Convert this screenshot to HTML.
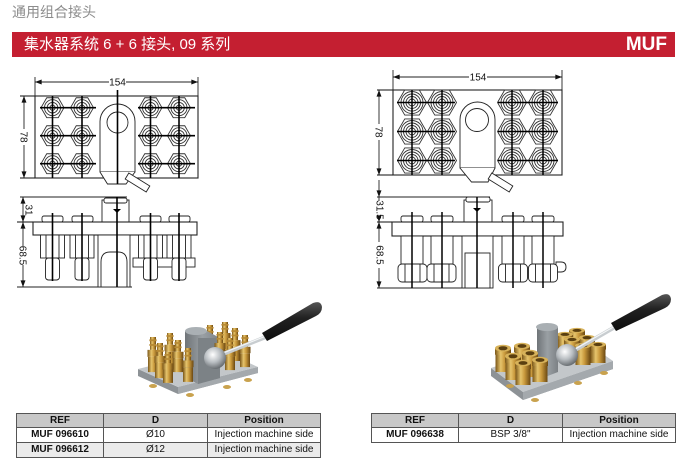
<!DOCTYPE html>
<html><head><meta charset="utf-8">
<style>
html,body{margin:0;padding:0;background:#fff;}
body{width:693px;height:467px;position:relative;overflow:hidden;font-family:"Liberation Sans","Noto Sans CJK SC",sans-serif;}
.sub{position:absolute;left:12px;top:4px;font-size:14px;line-height:16px;color:#8c8c8c;font-family:"Liberation Sans","Noto Sans CJK SC",sans-serif;}
.bar{position:absolute;left:12px;top:32px;width:663px;height:25px;background:#c41f31;color:#fff;}
.bar .tt{position:absolute;left:12px;top:4px;font-size:15px;line-height:17px;font-family:"Liberation Sans","Noto Sans CJK SC",sans-serif;}
.bar .muf{position:absolute;right:8px;top:2px;font-size:19px;line-height:21px;font-weight:bold;font-family:"Liberation Sans",sans-serif;}
.t{position:absolute;border-collapse:collapse;table-layout:fixed;font-family:"Liberation Sans",sans-serif;font-size:10px;border:1.5px solid #333;}
.t th,.t td{border:1px solid #555;padding:0;text-align:center;white-space:nowrap;overflow:hidden;color:#111;}
.t th{background:#c8c8c8;font-weight:bold;height:13px;line-height:13px;}
.t td{height:14px;line-height:14px;}
.t td.b{font-weight:bold;}
.t tr.g td{background:#ebebeb;}
svg text{font-family:"Liberation Sans",sans-serif;fill:#111;}
</style></head>
<body>
<div class="sub">通用组合接头</div>
<div class="bar"><span class="tt">集水器系统 6 + 6 接头, 09 系列</span><span class="muf">MUF</span></div>

<svg width="693" height="467" viewBox="0 0 693 467" style="position:absolute;left:0;top:0" xmlns="http://www.w3.org/2000/svg" xmlns:xlink="http://www.w3.org/1999/xlink">
<defs>
 <marker id="a" viewBox="0 0 8 6" refX="8" refY="3" markerWidth="7" markerHeight="5" markerUnits="userSpaceOnUse" orient="auto-start-reverse"><path d="M0,0L8,3L0,6z" fill="#111"/></marker>
 <g id="nL" fill="none" stroke="#333" stroke-width="0.9">
  <path d="M11.5,0L5.75,9.96L-5.75,9.96L-11.5,0L-5.75,-9.96L5.75,-9.96Z"/>
  <circle r="8"/><circle r="5.3"/><circle r="2.6"/>
 </g>
 <g id="nR" fill="none" stroke="#333" stroke-width="0.9">
  <path d="M14.5,0L7.25,12.56L-7.25,12.56L-14.5,0L-7.25,-12.56L7.25,-12.56Z"/>
  <circle r="11"/><circle r="8.5"/><circle r="6"/><circle r="3.5"/>
 </g>
 <linearGradient id="br" x1="0" x2="1" y1="0" y2="0">
  <stop offset="0" stop-color="#7a5618"/><stop offset="0.35" stop-color="#e6c46c"/><stop offset="0.6" stop-color="#c9993c"/><stop offset="1" stop-color="#6a4812"/>
 </linearGradient>
 <linearGradient id="gr" x1="0" x2="1" y1="0" y2="0">
  <stop offset="0" stop-color="#6f7478"/><stop offset="0.5" stop-color="#9aa0a4"/><stop offset="1" stop-color="#7c8185"/>
 </linearGradient>
 <radialGradient id="ball" cx="0.4" cy="0.35" r="0.7">
  <stop offset="0" stop-color="#ffffff"/><stop offset="0.5" stop-color="#b9bec2"/><stop offset="1" stop-color="#5d6266"/>
 </radialGradient>
 <linearGradient id="hd" x1="0" x2="0" y1="0" y2="1">
  <stop offset="0" stop-color="#555"/><stop offset="0.4" stop-color="#222"/><stop offset="1" stop-color="#0c0c0c"/>
 </linearGradient>
 <g id="fit">
  <rect x="-3" y="0" width="6" height="11" fill="url(#br)"/>
  <rect x="-3.6" y="2" width="7.2" height="1.6" fill="#b88a34"/>
  <rect x="-3.6" y="6" width="7.2" height="1.6" fill="#b88a34"/>
  <rect x="-5.5" y="11" width="11" height="6" fill="url(#br)"/>
  <rect x="-5" y="17" width="10" height="13" fill="url(#br)"/>
 </g>
 <g id="nut">
  <rect x="-7.5" y="3" width="15" height="22" fill="url(#br)"/>
  <rect x="-8" y="3" width="16" height="6" fill="url(#br)"/>
  <ellipse cx="0" cy="3" rx="8" ry="3.2" fill="#d7b25a"/>
  <ellipse cx="0" cy="3" rx="4.5" ry="1.9" fill="#5a3f10"/>
 </g>
</defs>

<!-- ===== LEFT TOP VIEW ===== -->
<g stroke="#222" stroke-width="0.9" fill="none">
 <line x1="35" y1="77" x2="35" y2="96"/>
 <line x1="198" y1="77" x2="198" y2="96"/>
 <line x1="35" y1="82" x2="109" y2="82" marker-start="url(#a)"/>
 <line x1="126" y1="82" x2="198" y2="82" marker-end="url(#a)"/>
 <rect x="35" y="96" width="163" height="82" stroke-width="1.1"/>
 <line x1="20" y1="96" x2="35" y2="96" stroke-width="1.1"/>
 <line x1="20" y1="178" x2="35" y2="178" stroke-width="1.1"/>
 <line x1="24" y1="96" x2="24" y2="129" marker-start="url(#a)"/>
 <line x1="24" y1="145" x2="24" y2="178" marker-end="url(#a)"/>
 <path d="M100,172V121.5A17.5,17.5 0 0 1 135,121.5V172Z" fill="#fff"/>
 <circle cx="117.5" cy="122.5" r="10.5"/>
 <path d="M100,172L107.5,184L126,184L135,172" fill="#fff"/>
 <path d="M128.8,173L149.8,186L146.2,192L125.2,179Z" fill="#fff"/>
</g>
<text x="117.5" y="85.5" font-size="10" text-anchor="middle">154</text>
<text transform="translate(24,137) rotate(90)" y="3.5" font-size="10" text-anchor="middle">78</text>
<g>
 <use href="#nL" xlink:href="#nL" x="52.5" y="107.7"/><use href="#nL" xlink:href="#nL" x="82" y="107.7"/>
 <use href="#nL" xlink:href="#nL" x="150.5" y="107.7"/><use href="#nL" xlink:href="#nL" x="179" y="107.7"/>
 <use href="#nL" xlink:href="#nL" x="52.5" y="135.7"/><use href="#nL" xlink:href="#nL" x="82" y="135.7"/>
 <use href="#nL" xlink:href="#nL" x="150.5" y="135.7"/><use href="#nL" xlink:href="#nL" x="179" y="135.7"/>
 <use href="#nL" xlink:href="#nL" x="52.5" y="163.7"/><use href="#nL" xlink:href="#nL" x="82" y="163.7"/>
 <use href="#nL" xlink:href="#nL" x="150.5" y="163.7"/><use href="#nL" xlink:href="#nL" x="179" y="163.7"/>
</g>
<g stroke="#000" stroke-width="1.6">
 <line x1="40" y1="107.7" x2="96" y2="107.7"/><line x1="138" y1="107.7" x2="195" y2="107.7"/>
 <line x1="40" y1="135.7" x2="96" y2="135.7"/><line x1="138" y1="135.7" x2="195" y2="135.7"/>
 <line x1="40" y1="163.7" x2="96" y2="163.7"/><line x1="138" y1="163.7" x2="195" y2="163.7"/>
 <line x1="52.5" y1="96" x2="52.5" y2="178"/><line x1="82" y1="96" x2="82" y2="178"/>
 <line x1="150.5" y1="96" x2="150.5" y2="178"/><line x1="179" y1="96" x2="179" y2="178"/>
 <line x1="117.5" y1="90" x2="117.5" y2="184"/>
</g>

<!-- ===== LEFT SIDE VIEW ===== -->
<g stroke="#222" stroke-width="0.9" fill="#fff">
 <line x1="20" y1="197" x2="127" y2="197" stroke-width="1.1"/>
 <line x1="17" y1="222" x2="33" y2="222" stroke-width="1.1"/>
 <line x1="17" y1="287" x2="132" y2="287" stroke-width="1.1"/>
 <rect x="133" y="258" width="62" height="9"/>
 <rect x="42" y="216" width="21" height="6" rx="2"/><rect x="72" y="216" width="21" height="6" rx="2"/>
 <rect x="140" y="216" width="21" height="6" rx="2"/><rect x="169" y="216" width="21" height="6" rx="2"/>
 <rect x="102" y="200" width="27" height="22"/>
 <rect x="104" y="198" width="23" height="5" rx="2"/>
 <rect x="33" y="222" width="164" height="13" stroke-width="1.1"/>
 <rect x="40.5" y="235" width="24" height="23"/><rect x="70" y="235" width="24" height="23"/>
 <rect x="138.5" y="235" width="24" height="23"/><rect x="167" y="235" width="24" height="23"/>
 <rect x="45.5" y="258" width="14" height="22" rx="3"/><rect x="75" y="258" width="14" height="22" rx="3"/>
 <rect x="143.5" y="258" width="14" height="22" rx="3"/><rect x="172" y="258" width="14" height="22" rx="3"/>
 <rect x="98" y="235" width="32" height="52"/>
 <path d="M101,287V262Q101,252 110,252H118Q127,252 127,262V287" fill="none"/>
 <g fill="none">
  <line x1="46" y1="235" x2="46" y2="258"/><line x1="59" y1="235" x2="59" y2="258"/>
  <line x1="75.5" y1="235" x2="75.5" y2="258"/><line x1="88.5" y1="235" x2="88.5" y2="258"/>
  <line x1="144" y1="235" x2="144" y2="258"/><line x1="157" y1="235" x2="157" y2="258"/>
  <line x1="172.5" y1="235" x2="172.5" y2="258"/><line x1="185.5" y1="235" x2="185.5" y2="258"/>
 </g>
 <line x1="23" y1="197" x2="23" y2="222" marker-start="url(#a)" marker-end="url(#a)"/>
 <line x1="23" y1="222" x2="23" y2="246" marker-start="url(#a)"/>
 <line x1="23" y1="265" x2="23" y2="287" marker-end="url(#a)"/>
</g>
<text transform="translate(29,210) rotate(90)" y="3.5" font-size="10" text-anchor="middle">31</text>
<text transform="translate(23,255.5) rotate(90)" y="3.5" font-size="10" text-anchor="middle">68.5</text>
<g stroke="#000" stroke-width="1.6">
 <line x1="52.5" y1="213" x2="52.5" y2="281"/><line x1="82" y1="213" x2="82" y2="281"/>
 <line x1="150.5" y1="213" x2="150.5" y2="281"/><line x1="179" y1="213" x2="179" y2="281"/>
 <line x1="117" y1="197" x2="117" y2="287"/>
</g>
<path d="M113,209L121,209L117,213Z" fill="#000"/>

<!-- ===== RIGHT TOP VIEW ===== -->
<g stroke="#222" stroke-width="0.9" fill="none">
 <line x1="393" y1="70" x2="393" y2="90"/>
 <line x1="562" y1="70" x2="562" y2="90"/>
 <line x1="393" y1="77" x2="469" y2="77" marker-start="url(#a)"/>
 <line x1="487" y1="77" x2="562" y2="77" marker-end="url(#a)"/>
 <rect x="393" y="90" width="169" height="85" stroke-width="1.1"/>
 <line x1="377" y1="90" x2="393" y2="90" stroke-width="1.1"/>
 <line x1="377" y1="175" x2="393" y2="175" stroke-width="1.1"/>
 <line x1="379" y1="90" x2="379" y2="124" marker-start="url(#a)"/>
 <line x1="379" y1="140" x2="379" y2="175" marker-end="url(#a)"/>
 <path d="M460,168V119.5A17.5,17.5 0 0 1 495,119.5V168Z" fill="#fff"/>
 <circle cx="477" cy="120" r="11.5"/>
 <path d="M460,168L471.5,182L488,182L495,168" fill="#fff"/>
 <path d="M491.8,173L512.8,186L509.2,192L488.2,179Z" fill="#fff"/>
</g>
<text x="478" y="80.5" font-size="10" text-anchor="middle">154</text>
<text transform="translate(379,132) rotate(90)" y="3.5" font-size="10" text-anchor="middle">78</text>
<g>
 <use href="#nR" xlink:href="#nR" x="412" y="102.5"/><use href="#nR" xlink:href="#nR" x="442" y="102.5"/>
 <use href="#nR" xlink:href="#nR" x="512" y="102.5"/><use href="#nR" xlink:href="#nR" x="543" y="102.5"/>
 <use href="#nR" xlink:href="#nR" x="412" y="131.5"/><use href="#nR" xlink:href="#nR" x="442" y="131.5"/>
 <use href="#nR" xlink:href="#nR" x="512" y="131.5"/><use href="#nR" xlink:href="#nR" x="543" y="131.5"/>
 <use href="#nR" xlink:href="#nR" x="412" y="160.5"/><use href="#nR" xlink:href="#nR" x="442" y="160.5"/>
 <use href="#nR" xlink:href="#nR" x="512" y="160.5"/><use href="#nR" xlink:href="#nR" x="543" y="160.5"/>
</g>
<g stroke="#000" stroke-width="1.5">
 <line x1="397" y1="102.5" x2="455" y2="102.5"/><line x1="498" y1="102.5" x2="558" y2="102.5"/>
 <line x1="397" y1="131.5" x2="455" y2="131.5"/><line x1="498" y1="131.5" x2="558" y2="131.5"/>
 <line x1="397" y1="160.5" x2="455" y2="160.5"/><line x1="498" y1="160.5" x2="558" y2="160.5"/>
 <line x1="412" y1="90" x2="412" y2="175"/><line x1="442" y1="90" x2="442" y2="175"/>
 <line x1="512" y1="90" x2="512" y2="175"/><line x1="543" y1="90" x2="543" y2="175"/>
</g>

<!-- ===== RIGHT SIDE VIEW ===== -->
<g stroke="#222" stroke-width="0.9" fill="#fff">
 <line x1="377" y1="197" x2="490" y2="197" stroke-width="1.1"/>
 <line x1="377" y1="222" x2="392" y2="222" stroke-width="1.1"/>
 <line x1="377" y1="288" x2="490" y2="288" stroke-width="1.1"/>
 <rect x="401" y="216" width="22" height="6" rx="2"/><rect x="431" y="216" width="22" height="6" rx="2"/>
 <rect x="502" y="216" width="22" height="6" rx="2"/><rect x="532" y="216" width="22" height="6" rx="2"/>
 <rect x="464" y="200" width="28" height="22"/>
 <rect x="466" y="197" width="24" height="5" rx="2"/>
 <rect x="392" y="222" width="171" height="14" stroke-width="1.1"/>
 <path d="M556,262H561Q566,262 566,267Q566,272 561,272H556Z"/>
 <rect x="401" y="236" width="22" height="28"/><rect x="431" y="236" width="22" height="28"/>
 <rect x="502" y="236" width="22" height="28"/><rect x="532" y="236" width="22" height="28"/>
 <rect x="398" y="264" width="29" height="18" rx="4"/><rect x="427" y="264" width="29" height="18" rx="4"/>
 <rect x="498.5" y="264" width="29" height="18" rx="4"/><rect x="528.5" y="264" width="29" height="18" rx="4"/>
 <rect x="462" y="236" width="31" height="52"/>
 <rect x="465" y="253" width="25" height="35"/>
 <g fill="none">
  <line x1="405" y1="264" x2="405" y2="282"/><line x1="420" y1="264" x2="420" y2="282"/>
  <line x1="434" y1="264" x2="434" y2="282"/><line x1="449" y1="264" x2="449" y2="282"/>
  <line x1="505.5" y1="264" x2="505.5" y2="282"/><line x1="520.5" y1="264" x2="520.5" y2="282"/>
  <line x1="535.5" y1="264" x2="535.5" y2="282"/><line x1="550.5" y1="264" x2="550.5" y2="282"/>
 </g>
 <line x1="379" y1="180" x2="379" y2="197" marker-end="url(#a)"/>
 <line x1="379" y1="197" x2="379" y2="201"/>
 <line x1="379" y1="219" x2="379" y2="222" marker-end="url(#a)"/>
 <line x1="379" y1="222" x2="379" y2="242" marker-start="url(#a)"/>
 <line x1="379" y1="268" x2="379" y2="288" marker-end="url(#a)"/>
</g>
<text transform="translate(380,210) rotate(90)" y="3.5" font-size="10" text-anchor="middle">31.5</text>
<text transform="translate(380,255) rotate(90)" y="3.5" font-size="10" text-anchor="middle">68.5</text>
<g stroke="#000" stroke-width="1.5">
 <line x1="412" y1="212" x2="412" y2="288"/><line x1="442" y1="212" x2="442" y2="288"/>
 <line x1="513" y1="212" x2="513" y2="288"/><line x1="543" y1="212" x2="543" y2="288"/>
 <line x1="477" y1="197" x2="477" y2="288"/>
</g>
<path d="M473,208L481,208L477,212Z" fill="#000"/>

<!-- ===== LEFT PHOTO ===== -->
<g>
 <path d="M138,369L178,387L258,367L258,373L178,394L138,376Z" fill="#8d9296"/>
 <path d="M178,387L258,367L258,373L178,394Z" fill="#a4a9ad"/>
 <path d="M138,369L218,349L258,367L178,387Z" fill="#c3c7ca"/>
 <ellipse cx="153" cy="386" rx="4" ry="2" fill="#c9a24e"/><ellipse cx="190" cy="395" rx="4" ry="2" fill="#c9a24e"/>
 <ellipse cx="227" cy="387" rx="4" ry="2" fill="#c9a24e"/><ellipse cx="248" cy="380" rx="4" ry="2" fill="#c9a24e"/>
 <!-- back right group -->
 <use href="#fit" xlink:href="#fit" transform="translate(225,322) scale(1,1)"/>
 <use href="#fit" xlink:href="#fit" transform="translate(210,325) scale(1,1)"/>
 <use href="#fit" xlink:href="#fit" transform="translate(235,328) scale(1,1.1)"/>
 <!-- block -->
 <path d="M185,331L207,331L220,338L220,378L198,384L185,377Z" fill="url(#gr)"/>
 <path d="M198,338L220,338L220,378L198,384Z" fill="#7c8286"/>
 <ellipse cx="196" cy="331" rx="11" ry="4" fill="#aab0b4"/>
 <use href="#fit" xlink:href="#fit" transform="translate(220,332) scale(1,1)"/>
 <use href="#fit" xlink:href="#fit" transform="translate(245,335) scale(1,1.07)"/>
 <use href="#fit" xlink:href="#fit" transform="translate(230,338) scale(1,1.07)"/>
 <!-- left group -->
 <use href="#fit" xlink:href="#fit" transform="translate(170,333) scale(1,1.07)"/>
 <use href="#fit" xlink:href="#fit" transform="translate(153,337) scale(1,1.17)"/>
 <use href="#fit" xlink:href="#fit" transform="translate(178,340) scale(1,1.07)"/>
 <use href="#fit" xlink:href="#fit" transform="translate(160,343) scale(1,1.17)"/>
 <use href="#fit" xlink:href="#fit" transform="translate(188,348) scale(1,1.13)"/>
 <use href="#fit" xlink:href="#fit" transform="translate(168,352) scale(1,1.03)"/>
 <!-- lever -->
 <line x1="218" y1="356" x2="266" y2="337" stroke="#c8cdd0" stroke-width="4" stroke-linecap="round"/>
 <line x1="218" y1="355" x2="266" y2="336" stroke="#f4f6f7" stroke-width="1.2"/>
 <circle cx="215" cy="358" r="11" fill="url(#ball)"/>
 <path d="M262,333L313,303Q321,300 322,307Q322,313 316,316L267,341Z" fill="url(#hd)"/>
</g>

<!-- ===== RIGHT PHOTO ===== -->
<g>
 <path d="M491,368L523,392L613,361L613,369L523,400L491,376Z" fill="#8d9296"/>
 <path d="M523,392L613,361L613,369L523,400Z" fill="#a4a9ad"/>
 <path d="M491,368L580,338L613,361L523,392Z" fill="#c3c7ca"/>
 <ellipse cx="510" cy="386" rx="4" ry="2" fill="#c9a24e"/><ellipse cx="535" cy="400" rx="4" ry="2" fill="#c9a24e"/>
 <ellipse cx="578" cy="383" rx="4" ry="2" fill="#c9a24e"/><ellipse cx="604" cy="373" rx="4" ry="2" fill="#c9a24e"/>
 <!-- right group back -->
 <use href="#nut" xlink:href="#nut" transform="translate(577,328) scale(1,0.8)"/>
 <use href="#nut" xlink:href="#nut" transform="translate(565,332) scale(1,0.8)"/>
 <!-- block -->
 <path d="M537,327L558,327L558,372L545,377L537,372Z" fill="url(#gr)"/>
 <ellipse cx="547" cy="327" rx="11" ry="4" fill="#a9afb3"/>
 <use href="#nut" xlink:href="#nut" transform="translate(587,335) scale(1,0.88)"/>
 <use href="#nut" xlink:href="#nut" transform="translate(572,337) scale(1,0.84)"/>
 <use href="#nut" xlink:href="#nut" transform="translate(598,342) scale(1,0.84)"/>
 <use href="#nut" xlink:href="#nut" transform="translate(583,343) scale(1,0.88)"/>
 <!-- left group -->
 <use href="#nut" xlink:href="#nut" transform="translate(522,343) scale(1,1)"/>
 <use href="#nut" xlink:href="#nut" transform="translate(503,345) scale(1,1.08)"/>
 <use href="#nut" xlink:href="#nut" transform="translate(530,350) scale(1,1.08)"/>
 <use href="#nut" xlink:href="#nut" transform="translate(513,353) scale(1,1.08)"/>
 <use href="#nut" xlink:href="#nut" transform="translate(540,357) scale(1,1)"/>
 <use href="#nut" xlink:href="#nut" transform="translate(523,360) scale(1,1)"/>
 <!-- lever -->
 <line x1="570" y1="353" x2="615" y2="327" stroke="#c8cdd0" stroke-width="4" stroke-linecap="round"/>
 <line x1="570" y1="352" x2="615" y2="326" stroke="#f4f6f7" stroke-width="1.2"/>
 <circle cx="567" cy="355" r="11" fill="url(#ball)"/>
 <path d="M611,323L662,295Q670,292 671,299Q671,305 665,308L616,331Z" fill="url(#hd)"/>
</g>
</svg>

<table class="t" style="left:16px;top:413px;width:304px">
<colgroup><col style="width:87px"><col style="width:104px"><col style="width:113px"></colgroup>
<tr><th>REF</th><th>D</th><th>Position</th></tr>
<tr><td class="b">MUF 096610</td><td>Ø10</td><td>Injection machine side</td></tr>
<tr class="g"><td class="b">MUF 096612</td><td>Ø12</td><td>Injection machine side</td></tr>
</table>

<table class="t" style="left:371px;top:413px;width:304px">
<colgroup><col style="width:87px"><col style="width:104px"><col style="width:113px"></colgroup>
<tr><th>REF</th><th>D</th><th>Position</th></tr>
<tr><td class="b">MUF 096638</td><td>BSP 3/8"</td><td>Injection machine side</td></tr>
</table>
</body></html>
